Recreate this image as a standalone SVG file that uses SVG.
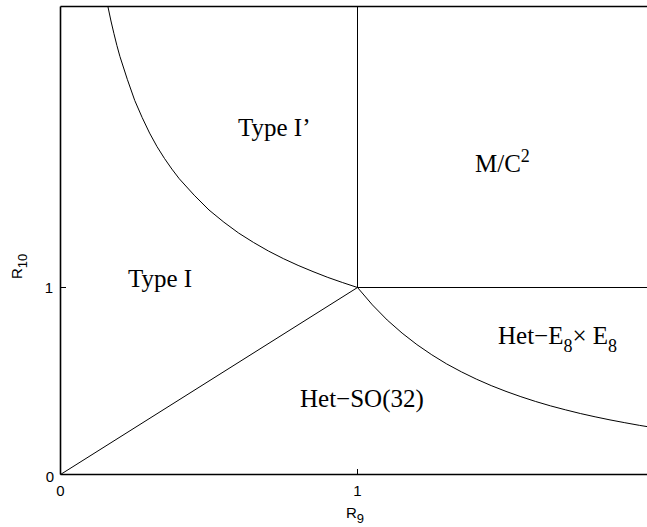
<svg xmlns="http://www.w3.org/2000/svg" width="647" height="527" viewBox="0 0 647 527">
<style>
.axis{stroke:#000;stroke-width:1.6;fill:none}
.curve{stroke:#000;stroke-width:1;fill:none}
.lbl{font-family:"Liberation Serif","Times New Roman",serif;font-size:25px;fill:#000}
.tick{font-family:"Liberation Sans",Arial,sans-serif;font-size:15px;fill:#000}
</style>
<rect width="647" height="527" fill="#fff"/>
<g id="axes">
<path class="axis" d="M60.5,6.5 H660 M60.5,474.5 H660 M60.5,6.5 V474.5"/>
<path class="curve" d="M357.5,474.5 V469 M60.5,287.5 H66"/>
</g>
<g id="connectors">
<polyline class="curve" points="108,7 110.97,21 113.96,33.7 116.9,45.5 119.9,56.4 127.3,79.3 134.75,100.5 142.2,117.6 149.6,133.1 157,146.6 164.45,158.4 171.9,169.1 179.3,178.8 194.2,195.2 209,210 223.9,222.2 238.7,233.1 253.6,242.5 268.4,251 283.3,258.6 298.1,265.4 313,271.6 327.8,277.4 342.7,282.6 357.5,287.5"/>
<polyline class="curve" points="357.5,287.5 372.4,304.9 387.2,320 402.1,333.1 416.9,344.6 431.8,354.8 446.6,363.9 461.5,371.9 476.3,379.1 491.2,385.6 506,391.4 520.9,396.7 535.7,401.5 550.6,405.9 565.4,409.8 580.3,413.5 595.1,416.8 610,419.9 624.8,422.7 639.7,425.4 654.5,427.8"/>
<line class="curve" x1="60.5" y1="474.5" x2="357.5" y2="287.5"/>
<line class="curve" x1="357.5" y1="287.5" x2="357.5" y2="6.5"/>
<line class="curve" x1="357.5" y1="287.5" x2="660" y2="287.5"/>
</g>
<g id="typeI"><text class="lbl" x="128" y="287">Type I</text></g>
<g id="typeIprime"><text class="lbl" x="238" y="136">Type I’</text></g>
<g id="mc2"><text class="lbl" x="475" y="172">M/C<tspan font-size="18" dy="-10">2</tspan></text></g>
<g id="hetE8"><text class="lbl" x="498" y="344">Het−E<tspan font-size="18" dy="8">8</tspan><tspan dy="-8">× E</tspan><tspan font-size="18" dy="8">8</tspan></text></g>
<g id="hetSO"><text class="lbl" x="300" y="407">Het−SO(32)</text></g>
<g id="ticklabels">
<text class="tick" x="54" y="482" text-anchor="end">0</text>
<text class="tick" x="53" y="293" text-anchor="end">1</text>
<text class="tick" x="60.5" y="496" text-anchor="middle">0</text>
<text class="tick" x="357.5" y="496" text-anchor="middle">1</text>
<text class="tick" x="346" y="518" font-size="16">R<tspan font-size="13" dy="5">9</tspan></text>
<text class="tick" font-size="16" transform="translate(22,279) rotate(-90)">R<tspan font-size="13" dy="5">10</tspan></text>
</g>
</svg>
